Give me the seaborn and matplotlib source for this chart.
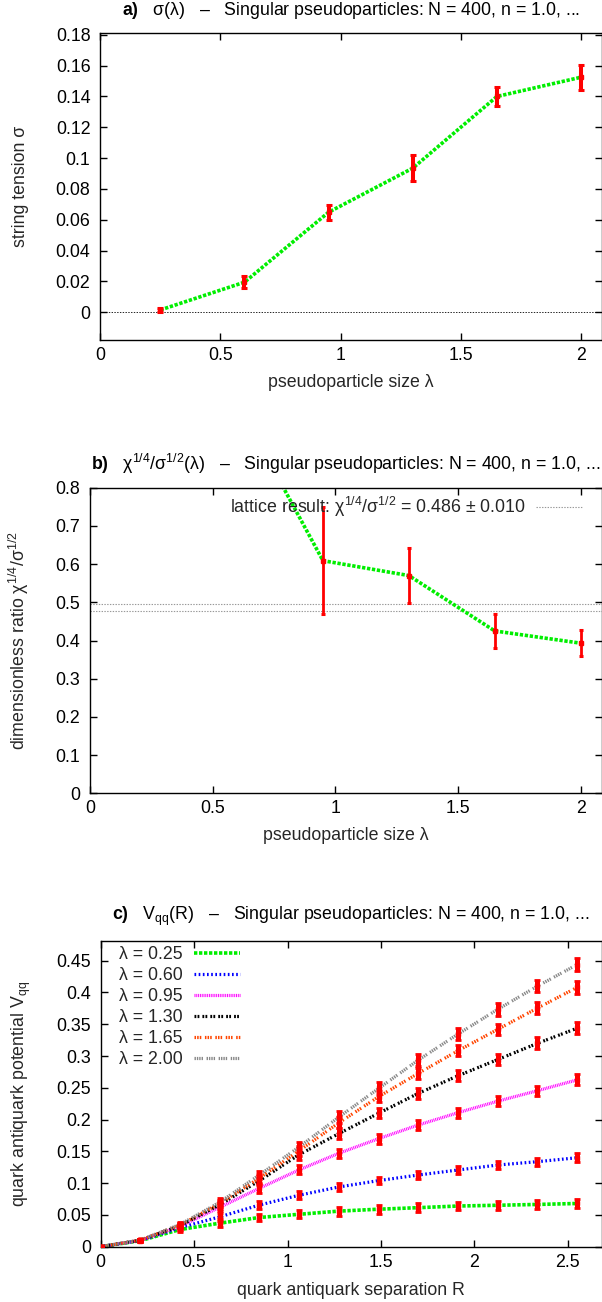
import numpy as np
import pandas as pd
import matplotlib
matplotlib.use("Agg")
import matplotlib.pyplot as plt
from matplotlib.ticker import FuncFormatter, MultipleLocator
import seaborn as sns

# ---------------- data ----------------
lam = [0.25, 0.60, 0.95, 1.30, 1.65, 2.00]
sigma = [0.0015, 0.0195, 0.0649, 0.0935, 0.1400, 0.1525]
sigma_err = [0.0015, 0.0040, 0.0050, 0.0085, 0.0060, 0.0080]

lam_b = [0.60, 0.95, 1.30, 1.65, 2.00]
ratio = [1.024, 0.609, 0.570, 0.425, 0.393]
ratio_err = [0.20, 0.140, 0.071, 0.044, 0.034]
lattice_val = 0.486
lattice_err = 0.010

R = [0.0, 0.2125, 0.425, 0.6375, 0.85, 1.0625, 1.275, 1.4875, 1.70, 1.9125, 2.125, 2.3375, 2.55]
V_025 = [0.0, 0.0095, 0.027, 0.037, 0.046, 0.051, 0.056, 0.059, 0.0614, 0.064, 0.0652, 0.0665, 0.068]
V_060 = [0.0, 0.0098, 0.030, 0.047, 0.0656, 0.081, 0.094, 0.104, 0.1128, 0.1207, 0.1285, 0.1338, 0.140]
V_095 = [0.0, 0.0100, 0.032, 0.062, 0.092, 0.121, 0.147, 0.170, 0.1915, 0.2109, 0.229, 0.2455, 0.2625]
V_130 = [0.0, 0.0102, 0.033, 0.066, 0.104, 0.145, 0.178, 0.210, 0.2413, 0.269, 0.2945, 0.320, 0.3438]
V_165 = [0.0, 0.0103, 0.034, 0.068, 0.108, 0.151, 0.195, 0.236, 0.2728, 0.3084, 0.342, 0.3755, 0.408]
V_200 = [0.0, 0.0104, 0.035, 0.070, 0.113, 0.157, 0.204, 0.249, 0.2937, 0.3346, 0.3735, 0.410, 0.444]
E_025 = [0.001, 0.002, 0.004, 0.006, 0.006, 0.006, 0.007, 0.007, 0.007, 0.007, 0.0073, 0.0076, 0.0076]
E_060 = [0.001, 0.002, 0.004, 0.006, 0.006, 0.006, 0.006, 0.006, 0.006, 0.0065, 0.0065, 0.0065, 0.0068]
E_095 = [0.001, 0.002, 0.004, 0.006, 0.007, 0.007, 0.007, 0.008, 0.008, 0.008, 0.008, 0.008, 0.0087]
E_130 = [0.001, 0.002, 0.004, 0.006, 0.007, 0.008, 0.008, 0.008, 0.009, 0.009, 0.009, 0.0092, 0.0099]
E_165 = [0.001, 0.002, 0.004, 0.006, 0.007, 0.008, 0.0085, 0.009, 0.009, 0.009, 0.0087, 0.009, 0.0099]
E_200 = [0.001, 0.002, 0.004, 0.006, 0.0065, 0.0085, 0.009, 0.0095, 0.0095, 0.0095, 0.0099, 0.0094, 0.0107]
series_labels = ["λ = 0.25", "λ = 0.60", "λ = 0.95", "λ = 1.30", "λ = 1.65", "λ = 2.00"]

# ---------------- style ----------------
sns.set_theme(style="ticks")
plt.rcParams["font.family"] = ["Liberation Sans", "DejaVu Sans"]
plt.rcParams["mathtext.fontset"] = "custom"
plt.rcParams["mathtext.rm"] = "Liberation Sans"
plt.rcParams["mathtext.it"] = "Liberation Sans"
plt.rcParams["mathtext.bf"] = "Liberation Sans:bold"
plt.rcParams["mathtext.default"] = "regular"
plt.rcParams["lines.scale_dashes"] = False
plt.rcParams["axes.edgecolor"] = "black"
plt.rcParams["axes.linewidth"] = 1.0
FS = 12.8

W, H = 602, 1302
fig = plt.figure(figsize=(W / 100, H / 100), dpi=100)


def add_axes(l, t, r, b):
    return fig.add_axes([l / W, 1 - b / H, (r - l) / W, (b - t) / H])


fmt = FuncFormatter(lambda v, p: "%g" % round(v, 6))


def style_axes(ax):
    ax.tick_params(direction="in", length=5, width=1.0, top=True, right=True,
                   labelsize=FS, colors="black")
    ax.tick_params(axis="y", pad=7)
    ax.tick_params(axis="x", pad=5.0)
    ax.xaxis.set_major_formatter(fmt)
    ax.yaxis.set_major_formatter(fmt)
    for s in ax.spines.values():
        s.set_visible(True)
        s.set_color("black")
        s.set_linewidth(1.0)


def title_text(ax, txt, above_px, hpx):
    ax.text(0.5, 1 + above_px / hpx, txt, transform=ax.transAxes, ha="center",
            va="baseline", fontsize=FS, color="black")


def labels(ax, xl, yl, lpx, hpx, wpx, xl_below=47, yl_x=25):
    ax.set_xlabel(xl, fontsize=FS, va="baseline")
    ax.xaxis.set_label_coords(0.5, -xl_below / hpx)
    ax.set_ylabel(yl, fontsize=FS, va="baseline")
    ax.yaxis.set_label_coords((yl_x - lpx) / wpx, 0.5)


GREEN = "#00ee00"
RED = "#ff0000"
green_ls = (0, (2.4, 1.2))

# ---------------- panel a ----------------
la, ta, ra, ba = 100.2, 33.3, 601.5, 340.0
axa = add_axes(la, ta, ra, ba)
df_a = pd.DataFrame({"lam": lam, "sigma": sigma})
axa.axhline(0, color="black", lw=0.6, ls=(0, (1, 1)), zorder=1)
sns.lineplot(data=df_a, x="lam", y="sigma", ax=axa, color=GREEN, lw=2.6,
             linestyle=green_ls, sort=False, zorder=2)
axa.errorbar(lam, sigma, yerr=sigma_err, fmt="s", color=RED, ms=3.5,
             elinewidth=2.9, capsize=2.0, capthick=2.2, zorder=3)
axa.set_xlim(0, 2.085)
axa.set_ylim(-0.018, 0.181)
axa.xaxis.set_major_locator(MultipleLocator(0.5))
axa.yaxis.set_major_locator(MultipleLocator(0.02))
style_axes(axa)
title_text(axa, r"$\mathbf{a)}$   σ(λ)   –   Singular pseudoparticles: N = 400, n = 1.0, ...", 18.3, ba - ta)
labels(axa, "pseudoparticle size λ", "string tension σ", la, ba - ta, ra - la)

# ---------------- panel b ----------------
lb, tb, rb, bb = 89.8, 487.7, 601.5, 793.3
axb = add_axes(lb, tb, rb, bb)
df_b = pd.DataFrame({"lam": lam_b, "ratio": ratio})
axb.axhline(lattice_val + lattice_err, color="#999999", lw=0.8, ls=(0, (1, 1)), zorder=1,
            label=r"lattice result: $χ^{1/4}/σ^{1/2}$ = 0.486 ± 0.010")
axb.axhline(lattice_val - lattice_err, color="#999999", lw=0.8, ls=(0, (1, 1)), zorder=1)
sns.lineplot(data=df_b, x="lam", y="ratio", ax=axb, color=GREEN, lw=2.6,
             linestyle=green_ls, sort=False, zorder=2)
axb.errorbar(lam_b, ratio, yerr=ratio_err, fmt="s", color=RED, ms=3.0,
             elinewidth=2.0, capsize=1.7, capthick=2.2, zorder=3)
axb.set_xlim(0, 2.085)
axb.set_ylim(0, 0.8)
axb.xaxis.set_major_locator(MultipleLocator(0.5))
axb.yaxis.set_major_locator(MultipleLocator(0.1))
style_axes(axb)
hb, wb = bb - tb, rb - lb
axb.legend(loc="center right", bbox_to_anchor=((583 - lb) / wb, 1 - (507 - tb) / hb),
           frameon=False, markerfirst=False, fontsize=FS, borderpad=0,
           borderaxespad=0, handlelength=2.64, handletextpad=0.6)
title_text(axb, r"$\mathbf{b)}$   $χ^{1/4}/σ^{1/2}(λ)$   –   Singular pseudoparticles: N = 400, n = 1.0, ...", 17.7, hb)
labels(axb, "pseudoparticle size λ", r"dimensionless ratio $χ^{1/4}/σ^{1/2}$", lb, hb, wb)

# ---------------- panel c ----------------
lc, tc, rc, bc = 100.6, 941.0, 601.5, 1246.7
axc = add_axes(lc, tc, rc, bc)
hc, wc = bc - tc, rc - lc
V_all = [V_025, V_060, V_095, V_130, V_165, V_200]
E_all = [E_025, E_060, E_095, E_130, E_165, E_200]
colors_c = [GREEN, "#0000ff", "#ff00ff", "#000000", "#ff4500", "#888888"]
styles_c = [green_ls, (0, (1.2, 1.8)), (0, (0.7, 0.6)), (0, (1.3, 0.9, 1.3, 2.2)),
            (0, (1.1, 0.8, 1.1, 0.8, 1.1, 2.6)), (0, (1.0, 0.7, 1.0, 0.7, 1.0, 0.7, 1.0, 2.6))]
widths_c = [2.6, 2.3, 2.3, 2.3, 2.3, 2.3]
for V, col, ls, lw, lab in zip(V_all, colors_c, styles_c, widths_c, series_labels):
    dfc = pd.DataFrame({"R": R, "V": V})
    sns.lineplot(data=dfc, x="R", y="V", ax=axc, color=col, lw=lw, linestyle=ls,
                 sort=False, label=lab, zorder=2)
for V, E in zip(V_all, E_all):
    axc.errorbar(R, V, yerr=E, fmt="s", color=RED, ms=3.5, elinewidth=3.6,
                 capsize=2.4, capthick=2.0, zorder=3, clip_on=True)
axc.set_xlim(0, 2.68)
axc.set_ylim(0, 0.481)
axc.xaxis.set_major_locator(MultipleLocator(0.5))
axc.yaxis.set_major_locator(MultipleLocator(0.05))
style_axes(axc)
axc.legend(loc="center left", bbox_to_anchor=((119 - lc) / wc, 1 - (1007 - tc) / hc),
           frameon=False, markerfirst=False, fontsize=FS, borderpad=0, borderaxespad=0,
           handlelength=2.6, handletextpad=0.62, labelspacing=0.22)
title_text(axc, r"$\mathbf{c)}$   $V_{qq}(R)$   –   Singular pseudoparticles: N = 400, n = 1.0, ...", 21, hc)
labels(axc, "quark antiquark separation R", r"quark antiquark potential $V_{qq}$", lc, hc, wc, xl_below=48)

fig.savefig("out.png", dpi=100, facecolor="white")
